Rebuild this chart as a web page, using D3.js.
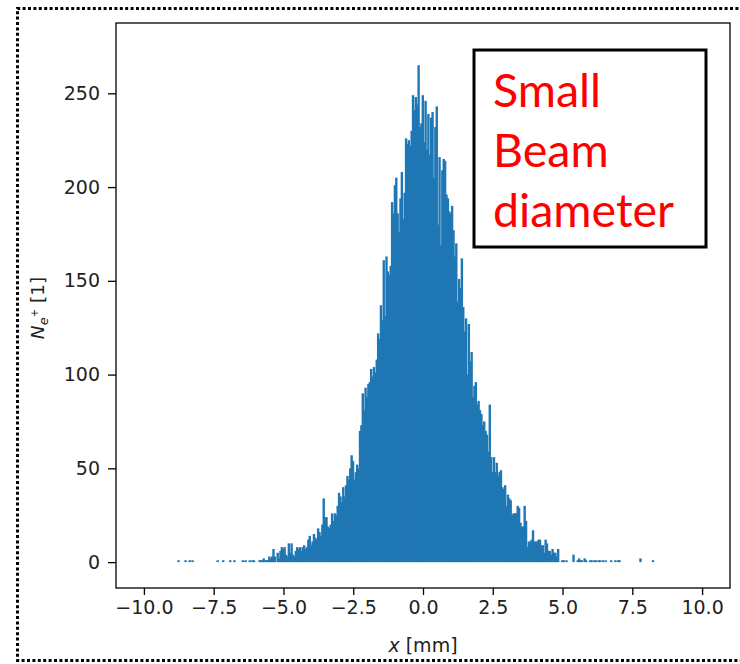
<!DOCTYPE html>
<meta charset="utf-8">
<script src="https://d3js.org/d3.v7.min.js"></script>
<style>
  body { margin: 0; background: #fff; }
</style>
<div id="my_dataviz"></div>
<script>

// histogram of positron hits along x, bins of 0.05 mm starting at -9.0 mm
var binStart = -9.0,
    binWidth = 0.05;

var counts = [
  0,0,0,0,1,0,0,0,0,1,
  0,0,1,0,1,0,0,0,0,0,
  0,0,0,0,0,0,0,0,0,0,
  0,0,1,0,0,0,1,0,0,0,
  0,1,0,0,1,0,0,0,0,0,
  1,0,1,0,0,1,0,1,1,0,
  0,0,1,1,1,2,1,1,1,3,
  2,3,7,3,0,5,2,6,8,7,
  8,4,3,10,5,10,4,3,6,8,
  7,8,6,8,9,7,8,12,14,9,
  11,15,13,12,18,16,14,20,34,24,
  24,19,18,20,26,22,26,25,30,37,
  35,32,40,35,41,46,44,50,57,54,
  44,48,52,50,70,73,90,81,93,88,
  95,96,103,99,104,101,108,122,119,137,
  129,161,131,163,155,153,158,192,186,201,
  205,186,176,194,208,183,197,226,223,225,
  222,230,249,241,248,244,265,232,234,249,
  224,246,220,239,217,237,240,205,232,243,
  180,216,169,209,215,214,196,194,187,186,
  190,177,163,170,139,151,146,162,136,123,
  130,100,127,107,112,88,94,96,84,86,
  81,79,73,75,70,68,59,84,56,48,
  56,48,53,46,48,49,40,39,41,30,
  36,34,33,25,26,26,26,30,29,21,
  19,19,30,22,8,11,11,12,17,11,
  11,11,12,12,9,9,5,12,10,6,
  6,4,7,5,5,3,7,0,0,1,
  1,0,1,0,0,0,0,4,0,0,
  1,2,1,1,0,2,1,0,0,1,
  1,0,1,1,0,1,1,0,1,0,
  1,0,0,0,1,0,0,1,0,1,
  1,0,0,0,0,0,0,0,0,0,
  0,0,0,0,0,2,0,0,0,0,
  0,0,0,0,1
];

var xTicks = [-10, -7.5, -5, -2.5, 0, 2.5, 5, 7.5, 10];
var yTicks = [0, 50, 100, 150, 200, 250];
var boxLines = ["Small", "Beam", "diameter"];

var W = 740, H = 664;
var margin = {top: 23, right: 10, bottom: 76, left: 116};
var plotW = 730 - margin.left,
    plotH = 588 - margin.top;

var svg = d3.select("#my_dataviz")
  .append("svg")
    .attr("width", W)
    .attr("height", H)
    .style("font-family", "DejaVu Sans");

svg.append("rect").attr("width", W).attr("height", H).attr("fill", "#fff");

// dotted outer frame (right side runs off the picture)
svg.append("path")
  .attr("d", "M760,8.5 H17.5 V660.5 H760")
  .attr("fill", "none")
  .attr("stroke", "#000")
  .attr("stroke-width", 3)
  .attr("stroke-dasharray", "3,2.4");

var g = svg.append("g")
  .attr("transform", "translate(" + margin.left + "," + margin.top + ")");

var x = d3.scaleLinear().domain([-11, 11]).range([0, plotW]);
var y = d3.scaleLinear().domain([-13.8, 287.5]).range([plotH, 0]);

// bars (a little overlap so neighbouring bins don't leave seams)
var bins = counts.map(function(c, i) {
  return {x0: binStart + i * binWidth, x1: binStart + (i + 1) * binWidth, n: c};
}).filter(function(d) { return d.n > 0; });

g.append("g")
  .selectAll("rect")
  .data(bins)
  .enter().append("rect")
    .attr("x", function(d) { return x(d.x0); })
    .attr("width", function(d) { return x(d.x1) - x(d.x0) + 1; })
    .attr("y", function(d) { return y(d.n); })
    .attr("height", function(d) { return y(0) - y(d.n); })
    .attr("fill", "#1f77b4");

// axes
var xAxis = g.append("g")
  .attr("transform", "translate(0," + plotH + ")")
  .call(d3.axisBottom(x).tickValues(xTicks).tickFormat(d3.format(".1f")).tickSize(7).tickPadding(6).tickSizeOuter(0));
var yAxis = g.append("g")
  .call(d3.axisLeft(y).tickValues(yTicks).tickFormat(d3.format("d")).tickSize(8).tickPadding(8).tickSizeOuter(0));

[xAxis, yAxis].forEach(function(a) {
  a.select(".domain").remove();
  a.selectAll("line").attr("stroke", "#000").attr("stroke-width", 1.3);
  a.selectAll("text")
    .attr("fill", "#222")
    .style("font-family", "DejaVu Sans")
    .style("font-size", "19px");
});

g.append("rect")
  .attr("width", plotW)
  .attr("height", plotH)
  .attr("fill", "none")
  .attr("stroke", "#000")
  .attr("stroke-width", 1.3);

// axis labels
var xl = svg.append("text")
  .attr("x", margin.left + x(0))
  .attr("y", 652)
  .attr("text-anchor", "middle")
  .style("font-size", "19px")
  .attr("fill", "#222");
xl.append("tspan").style("font-style", "italic").text("x");
xl.append("tspan").text(" [mm]");

var yl = svg.append("text")
  .attr("transform", "translate(44,308) rotate(-90)")
  .attr("text-anchor", "middle")
  .style("font-size", "18.5px")
  .attr("fill", "#222");
yl.append("tspan").style("font-style", "italic").text("N");
yl.append("tspan").style("font-style", "italic").style("font-size", "13px").attr("dy", 4).text("e");
yl.append("tspan").style("font-size", "10px").attr("dy", -10).text("+");
yl.append("tspan").attr("dy", 6).text(" [1]");

// annotation box
svg.append("rect")
  .attr("x", 474)
  .attr("y", 50)
  .attr("width", 232)
  .attr("height", 197)
  .attr("fill", "#fff")
  .attr("stroke", "#000")
  .attr("stroke-width", 3);

svg.append("g")
  .selectAll("text")
  .data(boxLines)
  .enter().append("text")
    .attr("x", 493)
    .attr("y", function(d, i) { return 107 + i * 60; })
    .attr("fill", "#ff0000")
    .style("font-family", "Lato")
    .style("font-size", "46.5px")
    .text(function(d) { return d; });

</script>
